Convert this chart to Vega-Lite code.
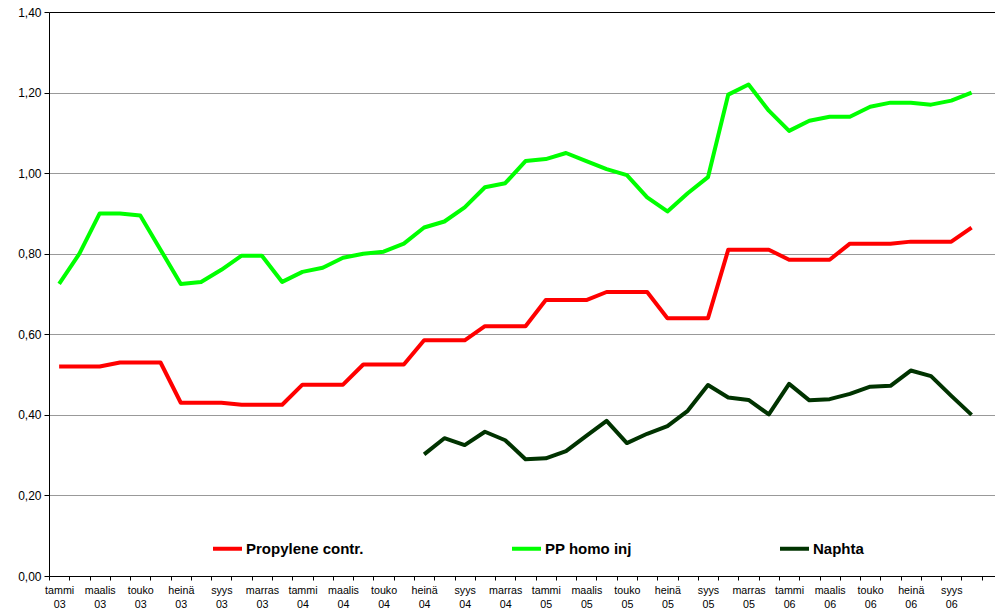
{
  "$schema": "https://vega.github.io/schema/vega-lite/v6.json",
  "autosize": "none",
  "width": 946,
  "height": 564,
  "padding": {"left": 49, "top": 12, "right": 0, "bottom": 38},
  "background": "white",
  "config": {
    "view": {"stroke": null},
    "font": "Liberation Sans",
    "legend": {"padding": 0}
  },
  "datasets": {
    "rows": [
      {"kk":"2003-01","s":"Propylene contr.","v":0.52},{"kk":"2003-02","s":"Propylene contr.","v":0.52},{"kk":"2003-03","s":"Propylene contr.","v":0.52},{"kk":"2003-04","s":"Propylene contr.","v":0.53},{"kk":"2003-05","s":"Propylene contr.","v":0.53},{"kk":"2003-06","s":"Propylene contr.","v":0.53},{"kk":"2003-07","s":"Propylene contr.","v":0.43},{"kk":"2003-08","s":"Propylene contr.","v":0.43},{"kk":"2003-09","s":"Propylene contr.","v":0.43},{"kk":"2003-10","s":"Propylene contr.","v":0.425},{"kk":"2003-11","s":"Propylene contr.","v":0.425},{"kk":"2003-12","s":"Propylene contr.","v":0.425},
      {"kk":"2004-01","s":"Propylene contr.","v":0.475},{"kk":"2004-02","s":"Propylene contr.","v":0.475},{"kk":"2004-03","s":"Propylene contr.","v":0.475},{"kk":"2004-04","s":"Propylene contr.","v":0.525},{"kk":"2004-05","s":"Propylene contr.","v":0.525},{"kk":"2004-06","s":"Propylene contr.","v":0.525},{"kk":"2004-07","s":"Propylene contr.","v":0.585},{"kk":"2004-08","s":"Propylene contr.","v":0.585},{"kk":"2004-09","s":"Propylene contr.","v":0.585},{"kk":"2004-10","s":"Propylene contr.","v":0.62},{"kk":"2004-11","s":"Propylene contr.","v":0.62},{"kk":"2004-12","s":"Propylene contr.","v":0.62},
      {"kk":"2005-01","s":"Propylene contr.","v":0.685},{"kk":"2005-02","s":"Propylene contr.","v":0.685},{"kk":"2005-03","s":"Propylene contr.","v":0.685},{"kk":"2005-04","s":"Propylene contr.","v":0.705},{"kk":"2005-05","s":"Propylene contr.","v":0.705},{"kk":"2005-06","s":"Propylene contr.","v":0.705},{"kk":"2005-07","s":"Propylene contr.","v":0.64},{"kk":"2005-08","s":"Propylene contr.","v":0.64},{"kk":"2005-09","s":"Propylene contr.","v":0.64},{"kk":"2005-10","s":"Propylene contr.","v":0.81},{"kk":"2005-11","s":"Propylene contr.","v":0.81},{"kk":"2005-12","s":"Propylene contr.","v":0.81},
      {"kk":"2006-01","s":"Propylene contr.","v":0.785},{"kk":"2006-02","s":"Propylene contr.","v":0.785},{"kk":"2006-03","s":"Propylene contr.","v":0.785},{"kk":"2006-04","s":"Propylene contr.","v":0.825},{"kk":"2006-05","s":"Propylene contr.","v":0.825},{"kk":"2006-06","s":"Propylene contr.","v":0.825},{"kk":"2006-07","s":"Propylene contr.","v":0.83},{"kk":"2006-08","s":"Propylene contr.","v":0.83},{"kk":"2006-09","s":"Propylene contr.","v":0.83},{"kk":"2006-10","s":"Propylene contr.","v":0.865},
      {"kk":"2003-01","s":"PP homo inj","v":0.725},{"kk":"2003-02","s":"PP homo inj","v":0.8},{"kk":"2003-03","s":"PP homo inj","v":0.9},{"kk":"2003-04","s":"PP homo inj","v":0.9},{"kk":"2003-05","s":"PP homo inj","v":0.895},{"kk":"2003-06","s":"PP homo inj","v":0.81},{"kk":"2003-07","s":"PP homo inj","v":0.725},{"kk":"2003-08","s":"PP homo inj","v":0.73},{"kk":"2003-09","s":"PP homo inj","v":0.76},{"kk":"2003-10","s":"PP homo inj","v":0.795},{"kk":"2003-11","s":"PP homo inj","v":0.795},{"kk":"2003-12","s":"PP homo inj","v":0.73},
      {"kk":"2004-01","s":"PP homo inj","v":0.755},{"kk":"2004-02","s":"PP homo inj","v":0.765},{"kk":"2004-03","s":"PP homo inj","v":0.79},{"kk":"2004-04","s":"PP homo inj","v":0.8},{"kk":"2004-05","s":"PP homo inj","v":0.805},{"kk":"2004-06","s":"PP homo inj","v":0.825},{"kk":"2004-07","s":"PP homo inj","v":0.865},{"kk":"2004-08","s":"PP homo inj","v":0.88},{"kk":"2004-09","s":"PP homo inj","v":0.915},{"kk":"2004-10","s":"PP homo inj","v":0.965},{"kk":"2004-11","s":"PP homo inj","v":0.975},{"kk":"2004-12","s":"PP homo inj","v":1.03},
      {"kk":"2005-01","s":"PP homo inj","v":1.035},{"kk":"2005-02","s":"PP homo inj","v":1.05},{"kk":"2005-03","s":"PP homo inj","v":1.03},{"kk":"2005-04","s":"PP homo inj","v":1.01},{"kk":"2005-05","s":"PP homo inj","v":0.995},{"kk":"2005-06","s":"PP homo inj","v":0.94},{"kk":"2005-07","s":"PP homo inj","v":0.905},{"kk":"2005-08","s":"PP homo inj","v":0.95},{"kk":"2005-09","s":"PP homo inj","v":0.99},{"kk":"2005-10","s":"PP homo inj","v":1.195},{"kk":"2005-11","s":"PP homo inj","v":1.22},{"kk":"2005-12","s":"PP homo inj","v":1.155},
      {"kk":"2006-01","s":"PP homo inj","v":1.105},{"kk":"2006-02","s":"PP homo inj","v":1.13},{"kk":"2006-03","s":"PP homo inj","v":1.14},{"kk":"2006-04","s":"PP homo inj","v":1.14},{"kk":"2006-05","s":"PP homo inj","v":1.165},{"kk":"2006-06","s":"PP homo inj","v":1.175},{"kk":"2006-07","s":"PP homo inj","v":1.175},{"kk":"2006-08","s":"PP homo inj","v":1.17},{"kk":"2006-09","s":"PP homo inj","v":1.18},{"kk":"2006-10","s":"PP homo inj","v":1.2},
      {"kk":"2004-07","s":"Naphta","v":0.302},{"kk":"2004-08","s":"Naphta","v":0.342},{"kk":"2004-09","s":"Naphta","v":0.325},{"kk":"2004-10","s":"Naphta","v":0.358},{"kk":"2004-11","s":"Naphta","v":0.337},{"kk":"2004-12","s":"Naphta","v":0.29},
      {"kk":"2005-01","s":"Naphta","v":0.292},{"kk":"2005-02","s":"Naphta","v":0.31},{"kk":"2005-03","s":"Naphta","v":0.348},{"kk":"2005-04","s":"Naphta","v":0.385},{"kk":"2005-05","s":"Naphta","v":0.33},{"kk":"2005-06","s":"Naphta","v":0.353},{"kk":"2005-07","s":"Naphta","v":0.372},{"kk":"2005-08","s":"Naphta","v":0.41},{"kk":"2005-09","s":"Naphta","v":0.474},{"kk":"2005-10","s":"Naphta","v":0.443},{"kk":"2005-11","s":"Naphta","v":0.437},{"kk":"2005-12","s":"Naphta","v":0.401},
      {"kk":"2006-01","s":"Naphta","v":0.477},{"kk":"2006-02","s":"Naphta","v":0.436},{"kk":"2006-03","s":"Naphta","v":0.439},{"kk":"2006-04","s":"Naphta","v":0.452},{"kk":"2006-05","s":"Naphta","v":0.47},{"kk":"2006-06","s":"Naphta","v":0.472},{"kk":"2006-07","s":"Naphta","v":0.51},{"kk":"2006-08","s":"Naphta","v":0.496},{"kk":"2006-09","s":"Naphta","v":0.447},{"kk":"2006-10","s":"Naphta","v":0.4}
    ]
  },
  "data": {"name": "rows"},
  "mark": {"type": "line", "strokeWidth": 4, "strokeJoin": "round"},
  "encoding": {
    "x": {
      "field": "kk",
      "type": "ordinal",
      "scale": {
        "type": "band",
        "paddingInner": 0,
        "paddingOuter": 0,
        "range": [0, 953],
        "domain": ["2003-01","2003-02","2003-03","2003-04","2003-05","2003-06","2003-07","2003-08","2003-09","2003-10","2003-11","2003-12","2004-01","2004-02","2004-03","2004-04","2004-05","2004-06","2004-07","2004-08","2004-09","2004-10","2004-11","2004-12","2005-01","2005-02","2005-03","2005-04","2005-05","2005-06","2005-07","2005-08","2005-09","2005-10","2005-11","2005-12","2006-01","2006-02","2006-03","2006-04","2006-05","2006-06","2006-07","2006-08","2006-09","2006-10","2006-11"]
      },
      "axis": {
        "title": null,
        "grid": false,
        "tickBand": "extent",
        "tickSize": 4,
        "tickColor": "#000000",
        "domainColor": "#000000",
        "labelAngle": 0,
        "labelFont": "Liberation Sans",
        "labelFontSize": 10.7,
        "labelColor": "#000000",
        "labelPadding": 5,
        "labelLineHeight": 14,
        "labelBaseline": "top",
        "labelOverlap": false,
        "labelExpr": "(toNumber(substring(datum.label,5,7)) % 2 == 1 && datum.label != '2006-11') ? [['tammi','helmi','maalis','huhti','touko','kesä','heinä','elo','syys','loka','marras','joulu'][toNumber(substring(datum.label,5,7))-1], substring(datum.label,2,4)] : ''"
      }
    },
    "y": {
      "field": "v",
      "type": "quantitative",
      "scale": {"domain": [0, 1.4], "nice": false, "zero": true},
      "axis": {
        "title": null,
        "values": [0, 0.2, 0.4, 0.6, 0.8, 1.0, 1.2, 1.4],
        "grid": true,
        "gridColor": {"condition": {"test": "datum.value > 1.39", "value": "#000000"}, "value": "#999999"},
        "gridWidth": 1,
        "tickSize": 5,
        "tickColor": "#000000",
        "domainColor": "#000000",
        "labelFont": "Liberation Sans",
        "labelFontSize": 12,
        "labelColor": "#000000",
        "labelPadding": 3,
        "labelExpr": "replace(format(datum.value, '.2f'), '.', ',')"
      }
    },
    "color": {
      "field": "s",
      "type": "nominal",
      "scale": {
        "domain": ["Propylene contr.", "PP homo inj", "Naphta"],
        "range": ["#ff0000", "#00ff00", "#003300"]
      },
      "legend": {
        "title": null,
        "orient": "none",
        "legendX": 162,
        "legendY": 520,
        "direction": "horizontal",
        "symbolType": "stroke",
        "symbolSize": 841,
        "symbolStrokeWidth": 4,
        "labelFont": "Liberation Sans",
        "labelFontWeight": "bold",
        "labelFontSize": 15,
        "labelColor": "#000000",
        "labelOffset": 2,
        "columnPadding": 140
      }
    }
  }
}
